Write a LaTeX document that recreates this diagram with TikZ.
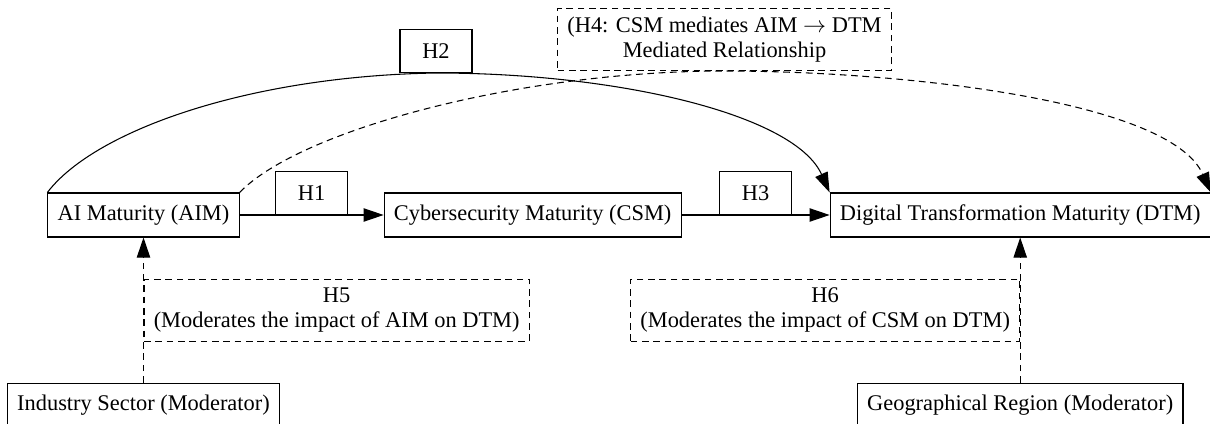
\documentclass[tikz,border=0pt]{standalone}
\usepackage{fontspec}
\setmainfont{Liberation Serif}
\usepackage{tikz}
\usetikzlibrary{positioning,arrows.meta}
\tikzset{
  conbox/.style={draw, line width=0.8pt, inner xsep=7.3pt, minimum height=33pt},
  hbox/.style={draw, line width=0.8pt, minimum width=54pt, minimum height=32pt},
  notebox/.style={draw, line width=0.8pt, dash pattern=on 5pt off 3.5pt, align=center,
    inner xsep=7.3pt, minimum height=46.5pt},
  link/.style={line width=0.8pt, -{Triangle[length=15pt,width=10pt]}},
  dashlink/.style={link, dash pattern=on 5pt off 3.5pt},
}

\begin{document}
\begin{tikzpicture}[x=0.75pt,y=-0.75pt,
  every node/.append style={font=\fontsize{16.8}{18.75}\selectfont}]
\useasboundingbox (0,0) rectangle (1210,424);

% main chain
\node[conbox] (aim) at (143.5,215) {AI Maturity (AIM)};
\node[conbox, right=108pt of aim] (csm) {Cybersecurity Maturity (CSM)};
\node[conbox, right=111pt of csm] (dtm) {Digital Transformation Maturity (DTM)};

% moderators
\node[conbox, below=108.75pt of aim] (sector) {Industry Sector (Moderator)};
\node[conbox, below=108.75pt of dtm] (region) {Geographical Region (Moderator)};

\draw[link] (aim) -- node[hbox, above] {H1} (csm);
\draw[link] (csm) -- node[hbox, above] {H3} (dtm);

% direct and mediated paths over the top
\node[hbox, anchor=south] (h2) at (436,73) {H2};
\node[notebox, anchor=south] (h4) at (724.5,71) {(H4: CSM mediates AIM $\rightarrow$ DTM\\Mediated Relationship};
\draw[link] (aim.north west) .. controls (95,130) and (250,76) .. (h2.south)
  .. controls (620,73) and (795,115) .. (dtm.north west);
\draw[dashlink] (aim.north east) .. controls (300,130) and (520,71) .. (h4.south)
  .. controls (900,71) and (1170,100) .. (dtm.north east);

\draw[dashlink] (sector) -- node[notebox, right] {H5\\(Moderates the impact of AIM on DTM)} (aim);
\draw[dashlink] (region) -- node[notebox, left] {H6\\(Moderates the impact of CSM on DTM)} (dtm);
\end{tikzpicture}
\end{document}
